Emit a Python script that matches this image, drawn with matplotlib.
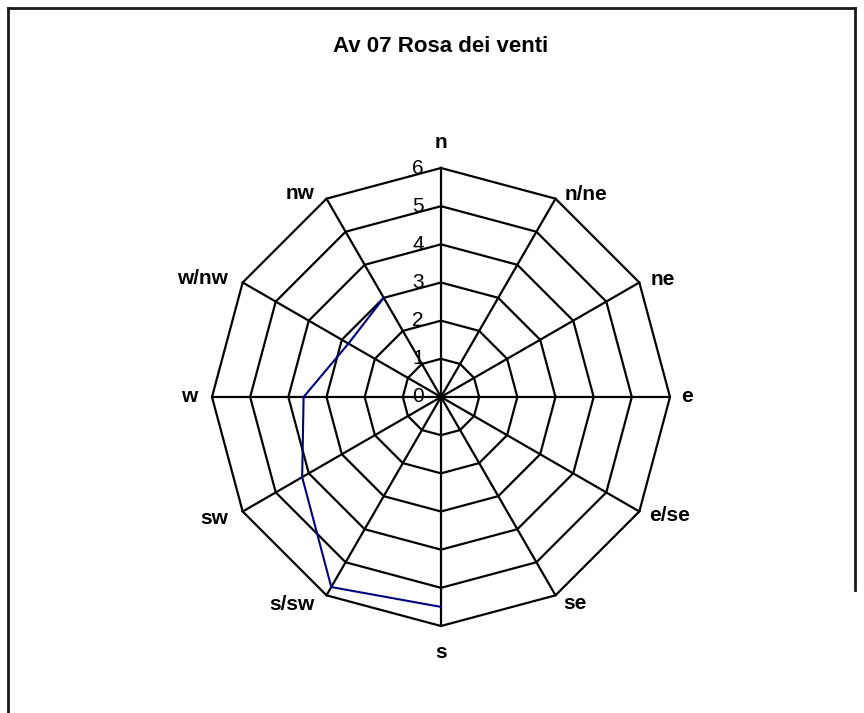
import numpy as np
import matplotlib
matplotlib.use("Agg")
import matplotlib.pyplot as plt
from matplotlib.lines import Line2D

plt.rcParams['font.family'] = ['Liberation Sans', 'DejaVu Sans']

# wind directions, clockwise from north
directions = ['n', 'n/ne', 'ne', 'e', 'e/se', 'se',
              's', 's/sw', 'sw', 'w', 'w/nw', 'nw']
# frequencies (blank where no value)
values = [np.nan, np.nan, np.nan, np.nan, np.nan, np.nan,
          5.5, 5.75, 4.2, 3.6, 2.8, 3.0]
rings = [1, 2, 3, 4, 5, 6]
rmax = 6

W, H = 864, 713
fig = plt.figure(figsize=(W / 100, H / 100), dpi=100)

# chart border
bk = dict(color='#1a1a1a', lw=2.0, transform=fig.transFigure)
fig.add_artist(Line2D([8 / W, 855 / W], [1 - 8 / H, 1 - 8 / H], **bk))
fig.add_artist(Line2D([8 / W, 8 / W], [0, 1 - 8 / H], **bk))
fig.add_artist(Line2D([855 / W, 855 / W], [1 - 8 / H, 1 - 590 / H], **bk))

fig.text(441 / W, 1 - 47 / H, 'Av 07 Rosa dei venti', ha='center', va='center',
         fontsize=16, fontweight='bold')

cx, cy, R = 441, 397, 229
ax = fig.add_axes([(cx - R) / W, (H - cy - R) / H, 2 * R / W, 2 * R / H],
                  projection='polar')
ax.set_theta_zero_location('N')
ax.set_theta_direction(-1)
ax.set_ylim(0, rmax)
ax.grid(False)
ax.set_xticks([])
ax.set_yticks([])
ax.spines['polar'].set_visible(False)
ax.patch.set_visible(False)

theta = np.arange(len(directions)) * 2 * np.pi / len(directions)
th_closed = np.append(theta, theta[0])

# spider web grid
for r in rings:
    ax.plot(th_closed, [r] * len(th_closed), color='black', lw=1.6, clip_on=False)
for t in theta:
    ax.plot([t, t], [0, rmax], color='black', lw=1.6, clip_on=False)

# series
ax.plot(theta, values, color='#000080', lw=1.5, clip_on=False)

# radial value labels
for r in [0] + rings:
    ax.annotate(str(r), xy=(0, r), xytext=(-23, 0), textcoords='offset pixels',
                ha='center', va='center', fontsize=15, annotation_clip=False)

# direction labels
lab_style = [('center', 0, 26), ('left', 9, 4), ('left', 11, 3), ('left', 11, 0),
             ('left', 10, -4), ('left', 8, -8), ('center', 0, -26),
             ('right', -12, -9), ('right', -14, -7), ('right', -15, 0),
             ('right', -15, 4), ('right', -12, 5)]
for t, name, (ha, dx, dy) in zip(theta, directions, lab_style):
    ax.annotate(name, xy=(t, rmax), xytext=(dx, dy), textcoords='offset pixels',
                ha=ha, va='center', fontsize=15, fontweight='bold',
                annotation_clip=False)

fig.savefig('out.png', dpi=100)
